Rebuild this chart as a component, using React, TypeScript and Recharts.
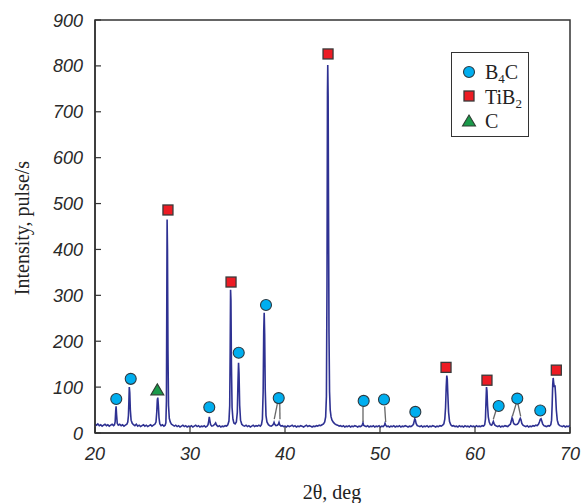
import React from 'react';
import {
  ComposedChart,
  Line,
  Scatter,
  XAxis,
  YAxis,
  ReferenceLine,
  ReferenceArea,
} from 'recharts';

// measured XRD scan: [2theta (deg), intensity (pulse/s)]
const scan: [number, number][] = [
  [20.0, 19], [20.15, 17], [20.3, 20], [20.45, 16], [20.6, 18], [20.75, 15], [20.9, 17], [21.05, 19],
  [21.2, 16], [21.35, 18], [21.5, 15], [21.65, 17], [21.8, 19], [21.95, 16], [22.05, 18], [22.12, 24],
  [22.18, 48], [22.22, 58], [22.27, 40], [22.34, 21], [22.45, 17], [22.6, 19], [22.75, 16], [22.9, 18],
  [23.05, 15], [23.2, 17], [23.35, 19], [23.45, 24], [23.52, 38], [23.57, 70], [23.61, 100], [23.66, 88],
  [23.72, 50], [23.8, 28], [23.92, 21], [24.05, 18], [24.2, 16], [24.35, 19], [24.5, 15], [24.65, 17],
  [24.8, 14], [24.95, 16], [25.1, 18], [25.25, 15], [25.4, 17], [25.55, 14], [25.7, 16], [25.85, 18],
  [26.0, 15], [26.15, 17], [26.3, 19], [26.42, 24], [26.5, 45], [26.56, 72], [26.61, 77], [26.67, 60],
  [26.74, 33], [26.82, 20], [26.95, 16], [27.1, 18], [27.25, 15], [27.38, 17], [27.46, 22], [27.52, 70],
  [27.56, 300], [27.59, 465], [27.63, 400], [27.68, 180], [27.74, 60], [27.82, 32], [27.92, 24], [28.05, 19],
  [28.2, 17], [28.35, 15], [28.5, 17], [28.65, 14], [28.8, 16], [28.95, 13], [29.1, 15], [29.25, 17],
  [29.4, 14], [29.55, 16], [29.7, 13], [29.85, 15], [30.0, 14], [30.15, 16], [30.3, 13], [30.45, 15],
  [30.6, 17], [30.75, 14], [30.9, 16], [31.05, 13], [31.2, 15], [31.35, 14], [31.5, 16], [31.65, 13],
  [31.8, 15], [31.9, 18], [31.97, 26], [32.03, 35], [32.09, 27], [32.17, 18], [32.3, 15], [32.45, 16],
  [32.6, 19], [32.7, 22], [32.8, 17], [32.95, 14], [33.1, 16], [33.25, 13], [33.4, 15], [33.55, 14],
  [33.7, 16], [33.85, 15], [33.98, 18], [34.1, 26], [34.18, 60], [34.23, 180], [34.27, 312], [34.31, 290],
  [34.36, 150], [34.43, 55], [34.52, 30], [34.62, 22], [34.75, 20], [34.88, 24], [34.98, 45], [35.05, 110],
  [35.11, 153], [35.16, 130], [35.23, 60], [35.32, 28], [35.45, 19], [35.6, 16], [35.75, 15], [35.9, 17],
  [36.05, 14], [36.2, 16], [36.35, 13], [36.5, 15], [36.65, 17], [36.8, 14], [36.95, 16], [37.1, 15],
  [37.25, 17], [37.4, 15], [37.52, 18], [37.62, 30], [37.7, 90], [37.76, 220], [37.81, 262], [37.86, 215],
  [37.92, 95], [38.0, 38], [38.1, 24], [38.25, 18], [38.4, 16], [38.55, 15], [38.7, 17], [38.8, 20],
  [38.85, 23], [38.92, 19], [39.05, 16], [39.2, 17], [39.3, 19], [39.37, 23], [39.44, 18], [39.58, 15],
  [39.72, 16], [39.86, 14], [40.0, 15], [40.15, 13], [40.3, 16], [40.45, 14], [40.6, 15], [40.75, 17],
  [40.9, 14], [41.05, 16], [41.2, 13], [41.35, 15], [41.5, 14], [41.65, 16], [41.8, 15], [41.95, 13],
  [42.1, 15], [42.25, 17], [42.4, 14], [42.55, 16], [42.7, 15], [42.85, 13], [43.0, 15], [43.15, 14],
  [43.3, 16], [43.45, 15], [43.6, 17], [43.75, 16], [43.9, 18], [44.05, 20], [44.18, 24], [44.28, 35],
  [44.36, 80], [44.42, 320], [44.47, 740], [44.5, 802], [44.54, 735], [44.58, 500], [44.63, 220], [44.69, 90],
  [44.76, 50], [44.85, 35], [44.95, 28], [45.1, 23], [45.25, 20], [45.4, 18], [45.55, 17], [45.7, 15],
  [45.85, 16], [46.0, 14], [46.15, 16], [46.3, 13], [46.45, 15], [46.6, 14], [46.75, 16], [46.9, 13],
  [47.05, 15], [47.2, 14], [47.35, 16], [47.5, 15], [47.65, 13], [47.8, 15], [47.95, 14], [48.08, 16],
  [48.16, 19], [48.21, 22], [48.27, 17], [48.4, 15], [48.55, 14], [48.7, 16], [48.85, 13], [49.0, 15],
  [49.15, 14], [49.3, 16], [49.45, 13], [49.6, 15], [49.75, 14], [49.9, 16], [50.05, 13], [50.2, 15],
  [50.35, 14], [50.47, 17], [50.53, 21], [50.6, 17], [50.72, 14], [50.87, 15], [51.0, 13], [51.15, 15],
  [51.3, 14], [51.45, 16], [51.6, 13], [51.75, 15], [51.9, 14], [52.05, 16], [52.2, 13], [52.35, 15],
  [52.5, 14], [52.65, 16], [52.8, 15], [52.95, 13], [53.1, 15], [53.25, 14], [53.4, 16], [53.52, 19],
  [53.6, 26], [53.66, 31], [53.72, 29], [53.8, 21], [53.92, 16], [54.05, 15], [54.2, 14], [54.35, 16],
  [54.5, 13], [54.65, 15], [54.8, 14], [54.95, 16], [55.1, 13], [55.25, 15], [55.4, 14], [55.55, 16],
  [55.7, 15], [55.85, 13], [56.0, 15], [56.15, 14], [56.3, 16], [56.45, 15], [56.6, 17], [56.72, 20],
  [56.82, 30], [56.9, 55], [56.97, 100], [57.03, 125], [57.08, 118], [57.14, 85], [57.22, 45], [57.32, 25],
  [57.45, 18], [57.6, 15], [57.75, 16], [57.9, 14], [58.05, 15], [58.2, 13], [58.35, 16], [58.5, 14],
  [58.65, 15], [58.8, 13], [58.95, 16], [59.1, 14], [59.25, 15], [59.4, 13], [59.55, 16], [59.7, 14],
  [59.85, 15], [60.0, 13], [60.15, 16], [60.3, 14], [60.45, 15], [60.6, 14], [60.75, 16], [60.9, 15],
  [61.02, 18], [61.1, 30], [61.16, 70], [61.21, 100], [61.26, 92], [61.32, 60], [61.4, 35], [61.5, 24],
  [61.62, 18], [61.75, 17], [61.85, 21], [61.93, 25], [62.0, 21], [62.1, 17], [62.25, 15], [62.4, 14],
  [62.55, 16], [62.7, 13], [62.85, 15], [63.0, 14], [63.15, 16], [63.3, 15], [63.45, 14], [63.6, 17],
  [63.72, 19], [63.82, 26], [63.9, 33], [63.97, 30], [64.05, 22], [64.15, 19], [64.3, 18], [64.45, 19],
  [64.58, 22], [64.68, 28], [64.77, 32], [64.84, 29], [64.93, 21], [65.05, 17], [65.2, 15], [65.35, 14],
  [65.5, 16], [65.65, 13], [65.8, 15], [65.95, 14], [66.1, 16], [66.25, 15], [66.4, 17], [66.55, 16],
  [66.68, 19], [66.78, 24], [66.88, 30], [66.95, 31], [67.03, 26], [67.12, 20], [67.25, 16], [67.4, 15],
  [67.55, 14], [67.7, 16], [67.85, 15], [67.98, 18], [68.06, 28], [68.12, 60], [68.18, 105], [68.23, 120],
  [68.28, 110], [68.35, 100], [68.42, 104], [68.48, 85], [68.56, 50], [68.66, 28], [68.78, 19], [68.92, 16],
  [69.05, 15], [69.2, 14], [69.35, 16], [69.5, 13], [69.65, 15], [69.8, 14], [69.95, 16], [70.0, 15],
];

// phase markers placed above the peaks
const b4cMarks = [
  { x: 22.24, y: 74 }, { x: 23.76, y: 118 }, { x: 32.03, y: 56 }, { x: 35.13, y: 175 },
  { x: 38.0, y: 279 }, { x: 39.34, y: 76 }, { x: 48.28, y: 70 }, { x: 50.42, y: 73 },
  { x: 53.72, y: 46 }, { x: 62.49, y: 59 }, { x: 64.45, y: 75 }, { x: 66.87, y: 49 },
];
const tib2Marks = [
  { x: 27.68, y: 486 }, { x: 34.32, y: 329 }, { x: 44.53, y: 826 }, { x: 56.95, y: 143 },
  { x: 61.26, y: 115 }, { x: 68.56, y: 137 },
];
const carbonMarks = [{ x: 26.56, y: 94 }];

// leader lines from markers to small peaks: [x1, y1, x2, y2]
const leaders: [number, number, number, number][] = [
  [39.19, 63, 38.87, 30],
  [39.45, 63, 39.47, 30],
  [48.21, 57, 48.21, 24],
  [50.49, 58, 50.6, 24],
  [62.21, 49, 61.93, 30],
  [64.32, 63, 63.93, 36],
  [64.53, 63, 64.81, 36],
];

const xTicks = [20, 30, 40, 50, 60, 70];
const yTicks = [0, 100, 200, 300, 400, 500, 600, 700, 800, 900];

const lineData = scan.map(([x, y]) => ({ x, y }));

const axisColor = '#333';
const tickFont = '"Liberation Sans", Arial, sans-serif';
const serifFont = '"Liberation Serif", "Times New Roman", serif';

const XTick = ({ x, y, payload }: any) => (
  <g>
    <line x1={x} x2={x} y1={y} y2={y - 6} stroke={axisColor} strokeWidth={1.2} />
    <text x={x} y={y + 27} textAnchor="middle" fontSize={18} fontStyle="italic" fontFamily={tickFont} fill="#2a2a2a">
      {payload.value}
    </text>
  </g>
);

const YTick = ({ x, y, payload }: any) => (
  <g>
    <line x1={x} x2={x + 6} y1={y} y2={y} stroke={axisColor} strokeWidth={1.2} />
    <text x={x - 12} y={y + 6.5} textAnchor="end" fontSize={18} fontStyle="italic" fontFamily={tickFont} fill="#2a2a2a">
      {payload.value}
    </text>
  </g>
);

const CircleMark = ({ cx, cy }: any) => (
  <circle cx={cx} cy={cy} r={5.5} fill="#00aeef" stroke="#2b3a42" strokeWidth={1.1} />
);
const SquareMark = ({ cx, cy }: any) => (
  <rect x={cx - 5} y={cy - 5} width={10} height={10} fill="#ed1c24" stroke="#3a3a3a" strokeWidth={1.3} />
);
const TriangleMark = ({ cx, cy }: any) => (
  <polygon points={`${cx},${cy - 6} ${cx + 6.5},${cy + 5} ${cx - 6.5},${cy + 5}`} fill="#1a9a4a" stroke="#2f3f33" strokeWidth={1.1} />
);

const ChartLegend = () => (
  <div
    style={{
      position: 'absolute',
      left: 451,
      top: 52,
      width: 78,
      height: 85,
      border: `1.5px solid ${axisColor}`,
      background: '#fff',
      boxSizing: 'border-box',
    }}
  >
    <svg width={76} height={82} style={{ display: 'block' }}>
      <circle cx={17} cy={19} r={5.5} fill="#00aeef" stroke="#2b3a42" strokeWidth={1.1} />
      <rect x={12} y={38} width={10} height={10} fill="#ed1c24" stroke="#3a3a3a" strokeWidth={1.3} />
      <polygon points="17,62 23.5,73 10.5,73" fill="#1a9a4a" stroke="#2f3f33" strokeWidth={1.1} />
      <text x={33} y={26} fontSize={20} fontFamily={serifFont} fill="#222">
        B<tspan fontSize={13} dy={4}>4</tspan><tspan fontSize={20} dy={-4}>C</tspan>
      </text>
      <text x={33} y={51} fontSize={20} fontFamily={serifFont} fill="#222">
        TiB<tspan fontSize={13} dy={4}>2</tspan>
      </text>
      <text x={33} y={75} fontSize={20} fontFamily={serifFont} fill="#222">C</text>
    </svg>
  </div>
);

export default function App() {
  return (
    <div style={{ position: 'absolute', left: 0, top: 0, width: 581, height: 503, background: '#fff' }}>
      <ComposedChart width={581} height={503} margin={{ top: 20, right: 11, left: 0, bottom: 0 }}>
        <XAxis
          type="number"
          dataKey="x"
          domain={[20, 70]}
          ticks={xTicks}
          allowDataOverflow
          height={70}
          tickSize={0}
          tickMargin={0}
          tickLine={false}
          tick={<XTick />}
          axisLine={{ stroke: axisColor, strokeWidth: 1.5 }}
          label={{
            content: () => (
              <text x={332} y={499} textAnchor="middle" fontSize={20} fontFamily={serifFont} fill="#222">
                2θ, deg
              </text>
            ),
          }}
        />
        <YAxis
          type="number"
          dataKey="y"
          domain={[0, 900]}
          ticks={yTicks}
          allowDataOverflow
          width={95}
          tickSize={0}
          tickMargin={0}
          tickLine={false}
          tick={<YTick />}
          axisLine={{ stroke: axisColor, strokeWidth: 1.5 }}
          label={{
            content: () => (
              <text
                x={29}
                y={228}
                transform="rotate(-90 29 228)"
                textAnchor="middle"
                fontSize={20}
                fontFamily={serifFont}
                fill="#222"
              >
                Intensity, pulse/s
              </text>
            ),
          }}
        />
        <ReferenceArea x1={20} x2={70} y1={0} y2={900} fill="none" stroke={axisColor} strokeWidth={1.5} />
        <Line
          data={lineData}
          dataKey="y"
          type="linear"
          stroke="#2e3192"
          strokeWidth={1.6}
          dot={false}
          isAnimationActive={false}
        />
        {leaders.map(([x1, y1, x2, y2], i) => (
          <ReferenceLine
            key={i}
            segment={[{ x: x1, y: y1 }, { x: x2, y: y2 }]}
            stroke="#666"
            strokeWidth={1.3}
          />
        ))}
        <Scatter data={b4cMarks} dataKey="y" shape={<CircleMark />} isAnimationActive={false} />
        <Scatter data={tib2Marks} dataKey="y" shape={<SquareMark />} isAnimationActive={false} />
        <Scatter data={carbonMarks} dataKey="y" shape={<TriangleMark />} isAnimationActive={false} />
      </ComposedChart>
      <ChartLegend />
    </div>
  );
}
